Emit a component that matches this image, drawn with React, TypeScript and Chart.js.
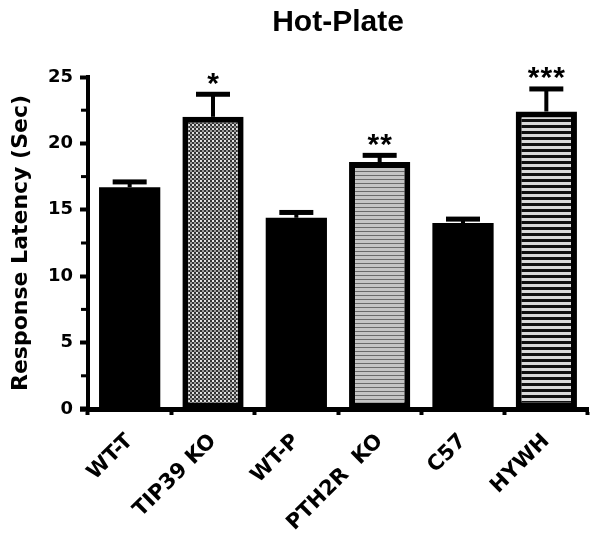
import React, { useEffect, useRef } from "react";
import { Chart, registerables } from "chart.js";

Chart.register(...registerables);

const TITLE_FONT = "'Liberation Sans', Arial, Helvetica, sans-serif";
const FONT = "'DejaVu Sans', 'Liberation Sans', Arial, sans-serif";

const chartTitle = "Hot-Plate";
const yAxisTitle = "Response Latency (Sec)";
const categories = ["WT-T", "TIP39 KO", "WT-P", "PTH2R  KO", "C57", "HYWH"];
const means = [16.7, 22.0, 14.4, 18.6, 14.0, 22.4];
const errorTops = [17.1, 23.7, 14.8, 19.1, 14.3, 24.1];
const significance = ["", "*", "", "**", "", "***"];
const fillKinds = ["solid", "dots", "solid", "stripesGray", "solid", "stripesLight"];
const yMin = 0;
const yMax = 25;
const yStep = 5;
const yMinorTicks = [2.5, 7.5, 12.5, 17.5, 22.5];

function makePattern(kind: string): CanvasPattern | string {
  if (kind === "solid") return "#000000";
  const c = document.createElement("canvas");
  const g = c.getContext("2d")!;
  if (kind === "dots") {
    c.width = 4;
    c.height = 4;
    g.fillStyle = "#333333";
    g.fillRect(0, 0, 4, 4);
    g.fillStyle = "#e0e0e0";
    g.fillRect(0, 0, 2, 2);
    g.fillStyle = "#9a9a9a";
    g.fillRect(2, 2, 2, 2);
  } else if (kind === "stripesGray") {
    c.width = 4;
    c.height = 4;
    g.fillStyle = "#c4c4c4";
    g.fillRect(0, 0, 4, 4);
    g.fillStyle = "#6a6a6a";
    g.fillRect(0, 3, 4, 1);
  } else {
    c.width = 6;
    c.height = 6;
    g.fillStyle = "#dadada";
    g.fillRect(0, 0, 6, 6);
    g.fillStyle = "#111111";
    g.fillRect(0, 3, 6, 3);
  }
  return g.createPattern(c, "repeat")!;
}

const titlePlugin = {
  id: "customTitle",
  afterDraw(chart: any) {
    const { ctx, chartArea } = chart;
    ctx.save();
    ctx.fillStyle = "#000";
    ctx.font = `bold 30px ${TITLE_FONT}`;
    ctx.textAlign = "center";
    ctx.textBaseline = "alphabetic";
    ctx.fillText(chartTitle, (chartArea.left + chartArea.right) / 2, 23);
    ctx.restore();
  },
};

const errorBarPlugin = {
  id: "errorBars",
  afterDatasetsDraw(chart: any) {
    const { ctx } = chart;
    const meta = chart.getDatasetMeta(0);
    const yScale = chart.scales.y;
    ctx.save();
    ctx.fillStyle = "#000";
    meta.data.forEach((bar: any, i: number) => {
      const x = bar.x;
      const top = yScale.getPixelForValue(errorTops[i]);
      const base = bar.y;
      ctx.fillRect(x - 2, top, 4, base - top);
      ctx.fillRect(x - 17, top - 2.5, 34, 5);
      if (significance[i]) {
        ctx.font = `bold 30px ${TITLE_FONT}`;
        (ctx as any).letterSpacing = "1px";
        ctx.textAlign = "center";
        ctx.textBaseline = "alphabetic";
        const m = ctx.measureText(significance[i]);
        const bottom = top - 2.5 - 7;
        ctx.fillText(significance[i], x + 0.5, bottom - m.actualBoundingBoxDescent);
        (ctx as any).letterSpacing = "0px";
      }
    });
    ctx.restore();
  },
};

const axisExtrasPlugin = {
  id: "axisExtras",
  afterDraw(chart: any) {
    const { ctx, chartArea } = chart;
    const yScale = chart.scales.y;
    ctx.save();
    ctx.fillStyle = "#000";
    yMinorTicks.forEach((v) => {
      const py = yScale.getPixelForValue(v);
      ctx.fillRect(chartArea.left - 7, py - 1.5, 5, 3);
    });
    ctx.fillRect(chartArea.left - 8, chartArea.bottom - 2.5, 9, 5);
    ctx.restore();
  },
};

export default function App() {
  const ref = useRef<HTMLCanvasElement>(null);
  useEffect(() => {
    if (!ref.current) return;
    const chart = new Chart(ref.current, {
      type: "bar",
      data: {
        labels: categories,
        datasets: [
          {
            data: means,
            backgroundColor: fillKinds.map(makePattern) as any,
            borderColor: "#000",
            borderWidth: fillKinds.map((k) => (k === "solid" ? 0 : 6)),
            borderSkipped: false,
            barPercentage: 0.735,
            categoryPercentage: 1,
          },
        ],
      },
      options: {
        animation: false,
        responsive: true,
        maintainAspectRatio: false,
        layout: { padding: { top: 69, right: 4, left: 0, bottom: 0 } },
        plugins: {
          legend: { display: false },
          title: { display: false },
          tooltip: { enabled: false },
        },
        scales: {
          x: {
            grid: {
              display: true,
              drawOnChartArea: false,
              drawTicks: true,
              tickLength: 6,
              tickWidth: 4,
              tickColor: "#000",
            },
            border: { display: true, color: "#000", width: 5 },
            ticks: {
              color: "#000",
              font: { family: FONT, size: 21, weight: "bold" },
              maxRotation: 45,
              minRotation: 45,
              padding: 14,
            },
            afterFit: (s: any) => {
              s.height = 127;
            },
          },
          y: {
            min: yMin,
            max: yMax,
            grid: {
              display: true,
              drawOnChartArea: false,
              drawTicks: true,
              tickLength: 8,
              tickWidth: 4,
              tickColor: "#000",
            },
            border: { display: true, color: "#000", width: 4 },
            ticks: {
              stepSize: yStep,
              color: "#000",
              font: { family: FONT, size: 18, weight: "bold" },
              padding: 7,
            },
            title: {
              display: true,
              text: yAxisTitle,
              color: "#000",
              font: { family: FONT, size: 22, weight: "bold" },
              padding: { top: 0, bottom: 0 },
            },
            afterFit: (s: any) => {
              s.width = 80;
            },
          },
        },
      },
      plugins: [titlePlugin, errorBarPlugin, axisExtrasPlugin],
    });
    return () => chart.destroy();
  }, []);
  return (
    <div style={{ width: 584, height: 528, position: "relative" }}>
      <canvas ref={ref} />
    </div>
  );
}
